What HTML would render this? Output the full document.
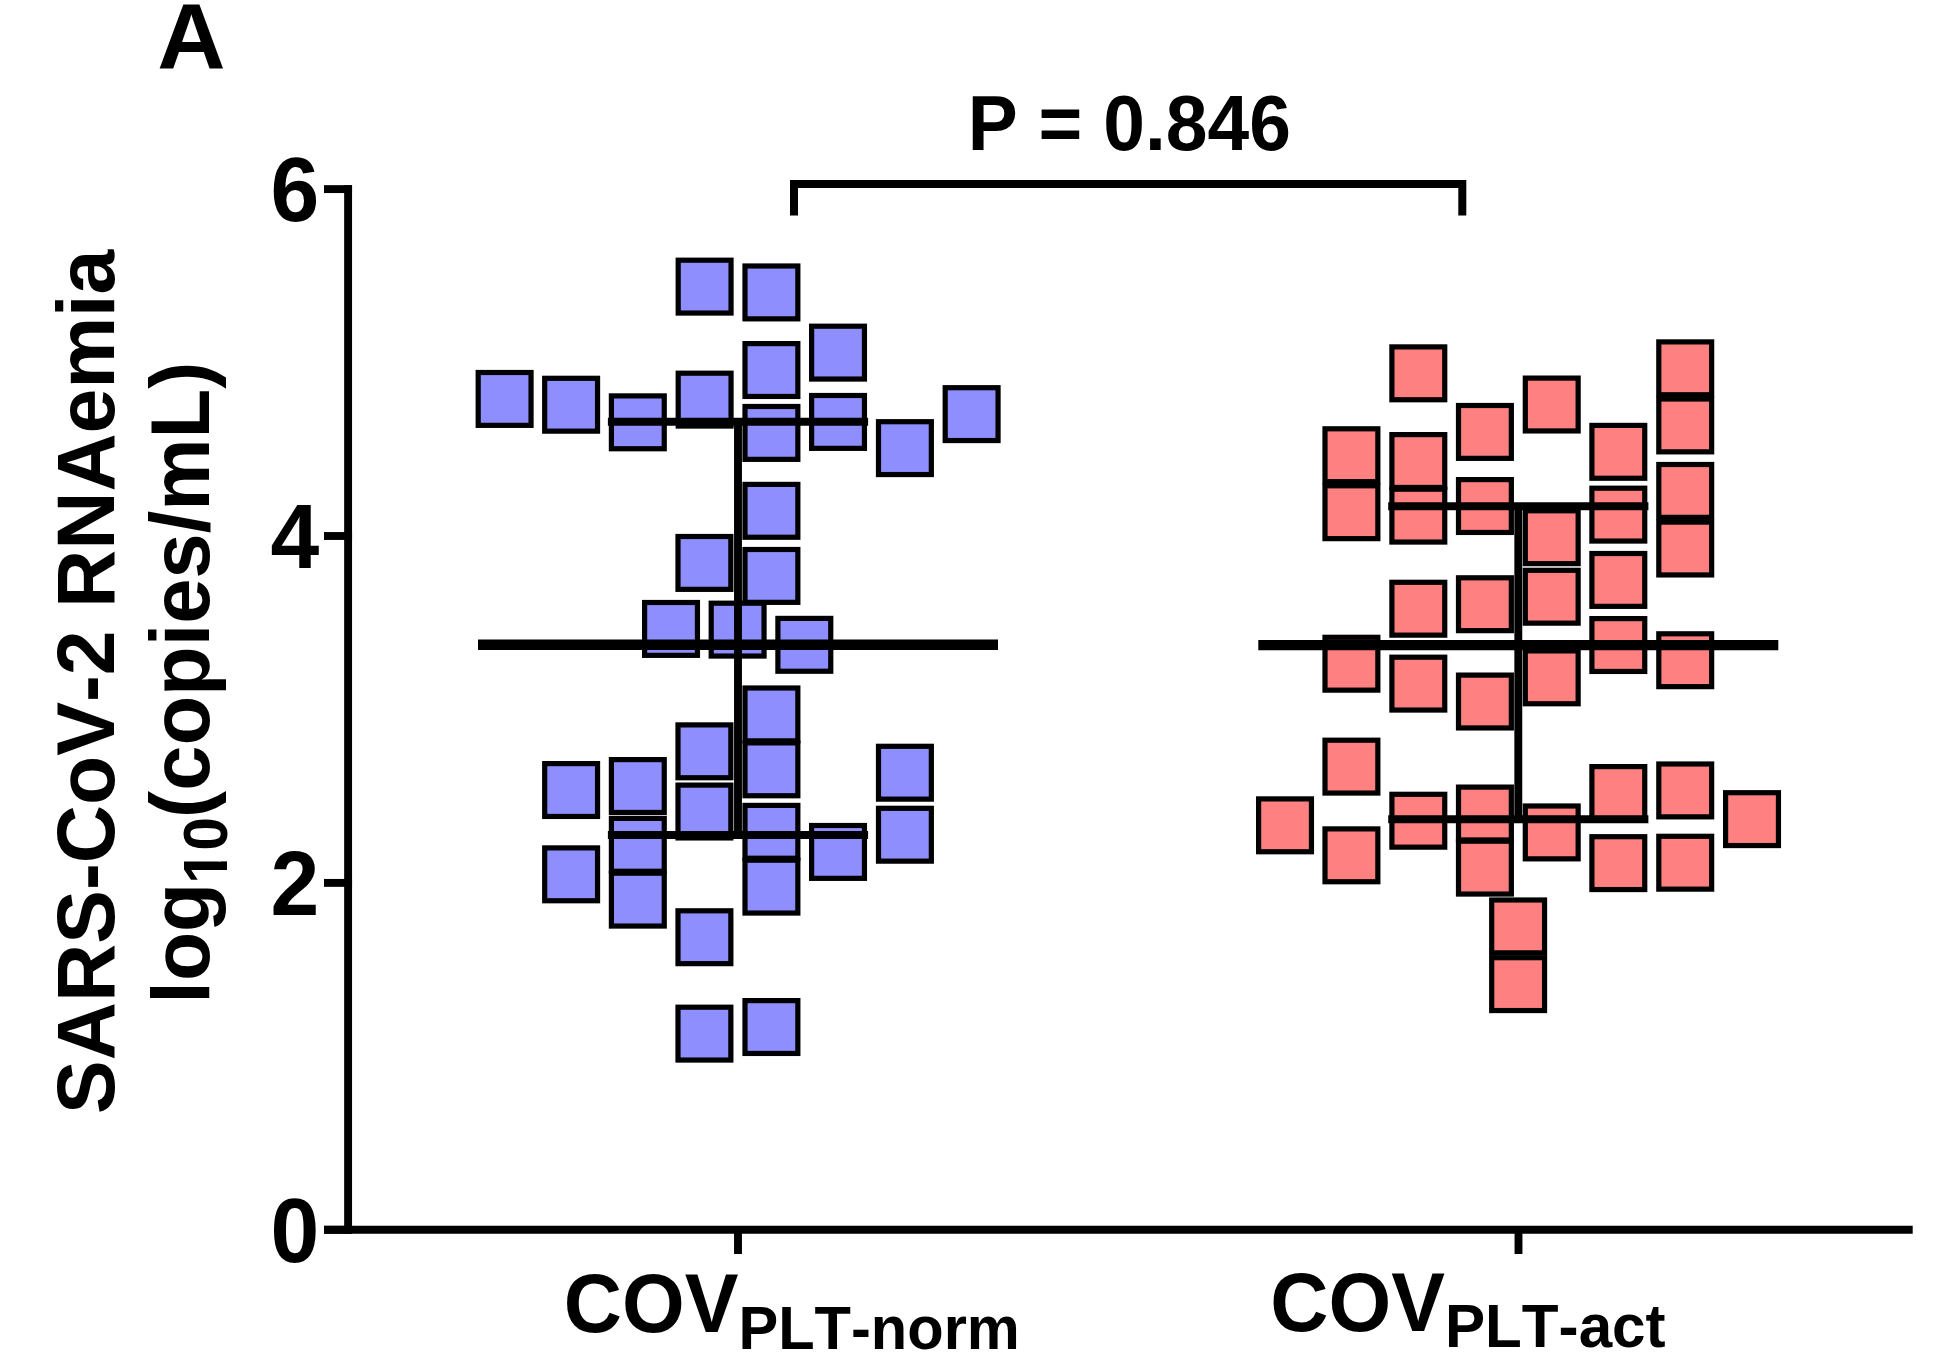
<!DOCTYPE html>
<html><head><meta charset="utf-8"><title>Figure A</title>
<style>
html,body{margin:0;padding:0;background:#fff;overflow:hidden;}
svg{display:block;}
text{font-family:"Liberation Sans",Arial,Helvetica,sans-serif;font-weight:bold;fill:#000;font-kerning:none;}
</style></head><body>
<svg width="1935" height="1365" viewBox="0 0 1935 1365">
<rect width="1935" height="1365" fill="#fff"/>
<text transform="translate(157.3,67.8) scale(1.062,1.034)" font-size="89">A</text>
<text transform="translate(967.7,150) scale(1,1.025)" font-size="75">P = 0.846</text>
<path d="M794 215.4V184.05H1462.3V215.4" fill="none" stroke="#000" stroke-width="8"/>
<g stroke="#000" stroke-width="7.9" fill="none">
<line x1="348.1" y1="185.15" x2="348.1" y2="1233.75"/>
<line x1="324" y1="1229.8" x2="1912.7" y2="1229.8"/>
<line x1="324" y1="1229.8" x2="352.05" y2="1229.8"/><line x1="324" y1="882.9" x2="352.05" y2="882.9"/><line x1="324" y1="536.0" x2="352.05" y2="536.0"/><line x1="324" y1="189.1" x2="352.05" y2="189.1"/>
<line x1="738" y1="1229.8" x2="738" y2="1254"/>
<line x1="1518.5" y1="1229.8" x2="1518.5" y2="1254"/>
</g>
<text transform="translate(319.3,1261.7) scale(0.985,1.03)" text-anchor="end" font-size="89">0</text><text transform="translate(319.3,914.8) scale(0.985,1.03)" text-anchor="end" font-size="89">2</text><text transform="translate(319.3,567.9) scale(0.985,1.03)" text-anchor="end" font-size="89">4</text><text transform="translate(319.3,221.0) scale(0.985,1.03)" text-anchor="end" font-size="89">6</text>
<g fill="#8e8eff" stroke="#000" stroke-width="5.2"><rect x="678.2" y="260.2" width="52.85" height="52.85"/><rect x="745.0" y="266.0" width="52.85" height="52.85"/><rect x="811.6" y="326.2" width="52.85" height="52.85"/><rect x="745.0" y="343.6" width="52.85" height="52.85"/><rect x="478.2" y="372.5" width="52.85" height="52.85"/><rect x="544.7" y="378.3" width="52.85" height="52.85"/><rect x="611.4" y="395.9" width="52.85" height="52.85"/><rect x="678.2" y="373.2" width="52.85" height="52.85"/><rect x="745.0" y="406.5" width="52.85" height="52.85"/><rect x="811.6" y="395.5" width="52.85" height="52.85"/><rect x="878.5" y="421.7" width="52.85" height="52.85"/><rect x="945.2" y="387.7" width="52.85" height="52.85"/><rect x="745.0" y="484.4" width="52.85" height="52.85"/><rect x="678.0" y="536.5" width="52.85" height="52.85"/><rect x="745.0" y="549.5" width="52.85" height="52.85"/><rect x="644.6" y="602.5" width="52.85" height="52.85"/><rect x="711.2" y="603.2" width="52.85" height="52.85"/><rect x="777.9" y="618.4" width="52.85" height="52.85"/><rect x="745.0" y="688.0" width="52.85" height="52.85"/><rect x="745.0" y="742.9" width="52.85" height="52.85"/><rect x="678.0" y="724.9" width="52.85" height="52.85"/><rect x="678.0" y="785.1" width="52.85" height="52.85"/><rect x="544.7" y="763.6" width="52.85" height="52.85"/><rect x="611.4" y="759.6" width="52.85" height="52.85"/><rect x="611.4" y="818.4" width="52.85" height="52.85"/><rect x="611.4" y="873.2" width="52.85" height="52.85"/><rect x="878.5" y="746.3" width="52.85" height="52.85"/><rect x="878.5" y="808.3" width="52.85" height="52.85"/><rect x="811.6" y="825.5" width="52.85" height="52.85"/><rect x="745.0" y="805.4" width="52.85" height="52.85"/><rect x="745.0" y="860.2" width="52.85" height="52.85"/><rect x="544.7" y="847.9" width="52.85" height="52.85"/><rect x="678.0" y="910.8" width="52.85" height="52.85"/><rect x="678.0" y="1007.2" width="52.85" height="52.85"/><rect x="745.0" y="1000.6" width="52.85" height="52.85"/></g>
<g stroke="#000" fill="none" stroke-width="7.9"><line x1="607.9" y1="421.8" x2="868.1" y2="421.8"/><line x1="607.9" y1="835" x2="868.1" y2="835"/><line x1="738" y1="421.8" x2="738" y2="835"/><line x1="478.0" y1="644.8" x2="998.0" y2="644.8" stroke-width="10.4"/></g>
<g fill="#ff8080" stroke="#000" stroke-width="5.2"><rect x="1391.9" y="346.9" width="52.85" height="52.85"/><rect x="1658.8" y="341.9" width="52.85" height="52.85"/><rect x="1658.8" y="399.0" width="52.85" height="52.85"/><rect x="1525.3" y="378.1" width="52.85" height="52.85"/><rect x="1458.5" y="405.5" width="52.85" height="52.85"/><rect x="1591.9" y="425.4" width="52.85" height="52.85"/><rect x="1325.0" y="428.8" width="52.85" height="52.85"/><rect x="1325.0" y="485.8" width="52.85" height="52.85"/><rect x="1391.9" y="434.6" width="52.85" height="52.85"/><rect x="1391.9" y="489.2" width="52.85" height="52.85"/><rect x="1458.5" y="479.6" width="52.85" height="52.85"/><rect x="1591.9" y="488.2" width="52.85" height="52.85"/><rect x="1658.8" y="464.5" width="52.85" height="52.85"/><rect x="1658.8" y="522.1" width="52.85" height="52.85"/><rect x="1525.3" y="510.8" width="52.85" height="52.85"/><rect x="1525.3" y="570.3" width="52.85" height="52.85"/><rect x="1591.9" y="553.5" width="52.85" height="52.85"/><rect x="1391.9" y="582.3" width="52.85" height="52.85"/><rect x="1458.5" y="577.8" width="52.85" height="52.85"/><rect x="1591.9" y="618.6" width="52.85" height="52.85"/><rect x="1658.8" y="633.8" width="52.85" height="52.85"/><rect x="1325.0" y="637.3" width="52.85" height="52.85"/><rect x="1391.9" y="657.2" width="52.85" height="52.85"/><rect x="1458.5" y="675.1" width="52.85" height="52.85"/><rect x="1525.3" y="650.9" width="52.85" height="52.85"/><rect x="1325.0" y="740.2" width="52.85" height="52.85"/><rect x="1258.6" y="798.9" width="52.85" height="52.85"/><rect x="1325.0" y="828.9" width="52.85" height="52.85"/><rect x="1391.9" y="794.3" width="52.85" height="52.85"/><rect x="1458.5" y="787.1" width="52.85" height="52.85"/><rect x="1458.5" y="841.2" width="52.85" height="52.85"/><rect x="1525.3" y="806.0" width="52.85" height="52.85"/><rect x="1591.9" y="766.6" width="52.85" height="52.85"/><rect x="1658.8" y="764.0" width="52.85" height="52.85"/><rect x="1725.6" y="792.7" width="52.85" height="52.85"/><rect x="1591.9" y="836.7" width="52.85" height="52.85"/><rect x="1658.8" y="836.3" width="52.85" height="52.85"/><rect x="1491.7" y="900.0" width="52.85" height="52.85"/><rect x="1491.7" y="957.7" width="52.85" height="52.85"/></g>
<g stroke="#000" fill="none" stroke-width="7.9"><line x1="1388.2" y1="506.2" x2="1648.4" y2="506.2"/><line x1="1388.2" y1="819.3" x2="1648.4" y2="819.3"/><line x1="1518.3" y1="506.2" x2="1518.3" y2="819.3"/><line x1="1258.3" y1="645.1" x2="1778.3" y2="645.1" stroke-width="10.4"/></g>
<text transform="translate(114.2,1113.9) rotate(-90) scale(1,1.02)" font-size="80.6">SARS-CoV-2 RNAemia</text>
<text transform="translate(208.8,1003.4) rotate(-90) scale(1,1.025)" font-size="80.3">log</text>
<text transform="translate(226.8,883.9) rotate(-90) scale(1,1.025)" font-size="60.5" x="0 33.1">10</text>
<rect x="218.6" y="850.2" width="10" height="11.2" fill="#fff"/><rect x="218.6" y="870" width="10" height="11.5" fill="#fff"/>
<text transform="translate(208.8,817.9) rotate(-90) scale(1,1.025)" font-size="81.3">(copies/mL)</text>
<text transform="translate(563.8,1332.3) scale(1,1.03)" font-size="80.6">COV<tspan font-size="59.6" dy="16.1">PLT-norm</tspan></text>
<text transform="translate(1270.3,1330.5) scale(1,1.03)" font-size="80.6">COV<tspan font-size="60.2" dy="16.2">PLT-act</tspan></text>
</svg>
</body></html>
